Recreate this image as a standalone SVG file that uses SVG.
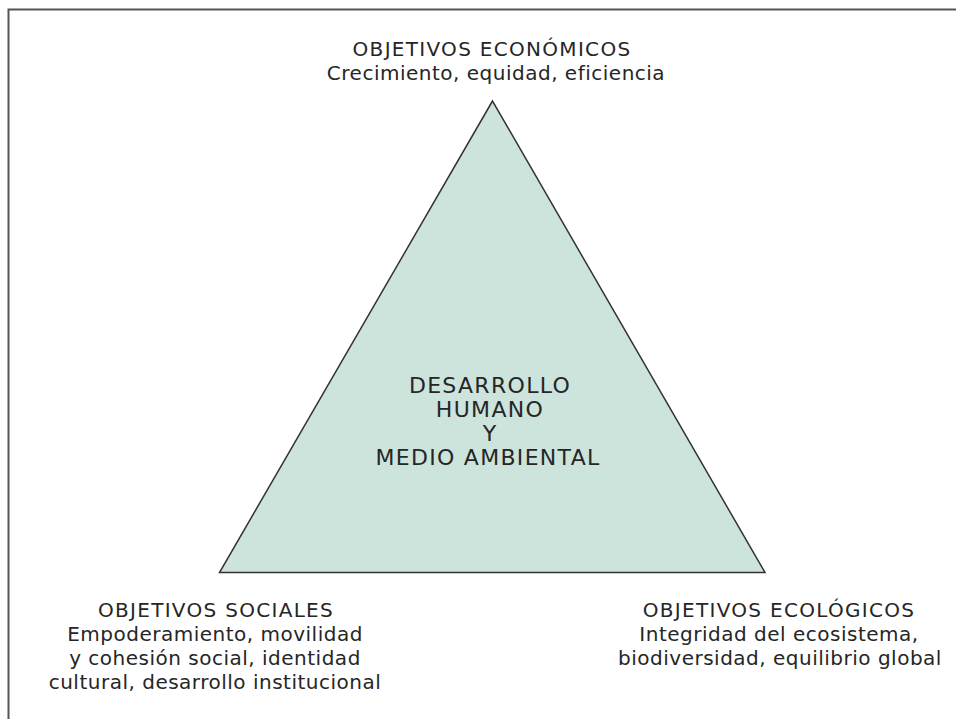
<svg xmlns="http://www.w3.org/2000/svg" width="956" height="719" viewBox="0 0 956 719">
<style>
  text { font-family: "DejaVu Sans", Verdana, sans-serif; font-size: 20px; fill: #262626; text-anchor: middle; letter-spacing: 0.5px; }
  text.cap { letter-spacing: 1.3px; }
  text.mid { font-size: 22px; letter-spacing: 1.3px; }
  .frame { stroke: #555; stroke-width: 2; fill: none; }
  .tri { fill: #cde4dd; stroke: #333; stroke-width: 1.5; stroke-linejoin: miter; }
</style>
<rect width="956" height="719" fill="#fff"/>
<path class="frame" d="M8.5,719 V9.5 H956"/>
<g id="triangle">
  <polygon class="tri" points="492.5,101 219.5,572.5 765,572.5"/>
  <text class="mid" x="490" y="393">DESARROLLO</text>
  <text class="mid" x="490" y="417">HUMANO</text>
  <text class="mid" x="490" y="441">Y</text>
  <text class="mid" x="488" y="465">MEDIO AMBIENTAL</text>
</g>
<g id="economicos">
  <text class="cap" x="492" y="56">OBJETIVOS ECONÓMICOS</text>
  <text x="496" y="80">Crecimiento, equidad, eficiencia</text>
</g>
<g id="sociales">
  <text class="cap" x="216" y="617">OBJETIVOS SOCIALES</text>
  <text x="215" y="641">Empoderamiento, movilidad</text>
  <text x="215" y="665">y cohesión social, identidad</text>
  <text x="215" y="689">cultural, desarrollo institucional</text>
</g>
<g id="ecologicos">
  <text class="cap" x="779" y="617">OBJETIVOS ECOLÓGICOS</text>
  <text x="779" y="641">Integridad del ecosistema,</text>
  <text x="780" y="665">biodiversidad, equilibrio global</text>
</g>
<g id="connectors"></g>
</svg>
